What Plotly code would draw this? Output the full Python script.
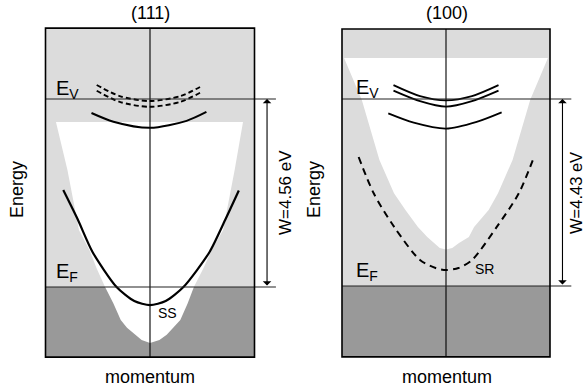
import plotly.graph_objects as go

WIN_W, WIN_H = 586, 392
FIG_W, FIG_H = WIN_W, WIN_H

# ---------------- data (energy in eV relative to E_F, momentum normalised) ----------------
panel_titles = ["(111)", "(100)"]
work_functions = [4.56, 4.43]          # W = E_V - E_F
box_energy_111 = [-1.70, 6.28]         # vertical extent of the (111) panel
box_energy_100 = [-1.68, 6.09]         # vertical extent of the (100) panel

# (111): projected bulk band gap (white region)
gap111_k = [-0.90, -0.79, -0.68, -0.58, -0.51, -0.43, -0.35, -0.28, -0.22, -0.14, -0.08, 0.00,
            0.09, 0.16, 0.22, 0.29, 0.36, 0.42, 0.51, 0.59, 0.70, 0.81, 0.89]
gap111_E = [4.00, 2.84, 1.38, 0.90, 0.45, 0.00, -0.40, -0.80, -0.99, -1.16, -1.285, -1.36,
            -1.285, -1.16, -0.99, -0.80, -0.40, 0.00, 0.45, 0.90, 1.38, 2.84, 4.00]
# (111): Shockley surface state SS
ss_k = [-0.83, -0.69, -0.55, -0.32, -0.15, 0.00, 0.15, 0.32, 0.57, 0.72, 0.85]
ss_E = [2.35, 1.63, 0.85, 0.00, -0.34, -0.44, -0.34, 0.00, 0.85, 1.63, 2.34]
# (111): image-potential states (solid below E_V, dashed above)
ip111_k = [-0.56, -0.35, 0.00, 0.35, 0.54]
ip111_E = [4.22, 4.01, 3.86, 4.03, 4.245]
ip111a_k = [-0.51, -0.29, 0.00, 0.29, 0.50]
ip111a_E = [4.90, 4.63, 4.51, 4.63, 4.88]
ip111b_k = [-0.51, -0.29, 0.00, 0.29, 0.50]
ip111b_E = [4.76, 4.49, 4.37, 4.49, 4.74]

# (100): projected bulk band gap (white region)
gap100_k = [-0.98, -0.81, -0.64, -0.50, -0.39, -0.27, -0.18, -0.12, -0.06, 0.00,
            0.06, 0.125, 0.22, 0.27, 0.41, 0.50, 0.64, 0.81, 0.98]
gap100_E = [5.40, 4.41, 2.985, 2.20, 1.80, 1.40, 1.16, 1.02, 0.90, 0.865,
            0.90, 1.02, 1.16, 1.40, 1.80, 2.20, 2.985, 4.41, 5.40]
# (100): surface resonance SR
sr_k = [-0.84, -0.695, -0.50, -0.25, -0.10, 0.00, 0.12, 0.25, 0.49, 0.70, 0.845]
sr_E = [3.056, 2.196, 1.405, 0.616, 0.426, 0.379, 0.426, 0.616, 1.405, 2.196, 3.05]
# (100): image-potential states
ip100a_k = [-0.505, -0.25, 0.00, 0.25, 0.505]
ip100a_E = [4.76, 4.50, 4.40, 4.50, 4.76]
ip100b_k = [-0.505, -0.25, 0.00, 0.25, 0.505]
ip100b_E = [4.63, 4.38, 4.25, 4.38, 4.63]
ip100c_k = [-0.555, -0.31, 0.00, 0.295, 0.535]
ip100c_E = [4.09, 3.87, 3.73, 3.89, 4.115]

# ---------------- style ----------------
LIGHT = "#dcdcdc"
DARK = "#999999"
FONT = "Liberation Sans, Arial, Helvetica, sans-serif"

# pixel calibration of each panel: (k=0 column, px per unit k, E_F row, px per eV)
calib = [(150.0, 104.5, 287.0, 41.23), (446.0, 104.0, 286.0, 42.21)]
split_px = FIG_W / 2.0


def axis_ranges(c, x_lo, x_hi):
    kc, ks, ef, es = c
    xr = [(x_lo - kc) / ks, (x_hi - kc) / ks]
    yr = [(ef - FIG_H) / es, ef / es]
    return xr, yr


xr1, yr1 = axis_ranges(calib[0], 0, split_px)
xr2, yr2 = axis_ranges(calib[1], split_px, FIG_W)

fig = go.Figure()


def add_curve(k, E, xa, ya, dash="solid", width=2.0, smoothing=0.8):
    fig.add_trace(go.Scatter(x=k, y=E, mode="lines", xaxis=xa, yaxis=ya,
                             line=dict(color="black", width=width, dash=dash, shape="spline",
                                       smoothing=smoothing),
                             hoverinfo="skip", showlegend=False))


def add_gap(k, E, xa, ya):
    fig.add_trace(go.Scatter(x=k, y=E, mode="lines", fill="toself", fillcolor="white",
                             xaxis=xa, yaxis=ya, line=dict(width=0, color="white"),
                             hoverinfo="skip", showlegend=False))


# (111) panel
add_gap(gap111_k, gap111_E, "x", "y")
add_curve(ss_k, ss_E, "x", "y", width=2.2, smoothing=0.7)
add_curve(ip111_k, ip111_E, "x", "y", width=2.0)
add_curve(ip111a_k, ip111a_E, "x", "y", dash="5px,3px", width=1.9)
add_curve(ip111b_k, ip111b_E, "x", "y", dash="5px,3px", width=1.9)

# (100) panel
add_gap(gap100_k, gap100_E, "x2", "y2")
add_curve(sr_k, sr_E, "x2", "y2", dash="7px,5px", width=2.0)
add_curve(ip100a_k, ip100a_E, "x2", "y2", width=1.8)
add_curve(ip100b_k, ip100b_E, "x2", "y2", width=1.8)
add_curve(ip100c_k, ip100c_E, "x2", "y2", width=1.8)

shapes = []
annotations = []


def px(x):
    return x / FIG_W


def py(y):
    return 1 - y / FIG_H


panels = [("x", "y", box_energy_111, work_functions[0]),
          ("x2", "y2", box_energy_100, work_functions[1])]
for (xa, ya, box, w) in panels:
    # background bands
    shapes.append(dict(type="rect", xref=xa, yref=ya, x0=-1, x1=1, y0=0, y1=box[1],
                       fillcolor=LIGHT, line=dict(width=0), layer="below"))
    shapes.append(dict(type="rect", xref=xa, yref=ya, x0=-1, x1=1, y0=box[0], y1=0,
                       fillcolor=DARK, line=dict(width=0), layer="below"))
    # k = 0 line
    shapes.append(dict(type="line", xref=xa, yref=ya, x0=0, x1=0, y0=box[0], y1=box[1],
                       line=dict(color="black", width=1.1), layer="above"))
    # E_V and E_F lines
    for e in (w, 0):
        shapes.append(dict(type="line", xref=xa, yref=ya, x0=-1, x1=1.205, y0=e, y1=e,
                           line=dict(color="#222222", width=1.1), layer="above"))
    # frame
    shapes.append(dict(type="rect", xref=xa, yref=ya, x0=-1, x1=1, y0=box[0], y1=box[1],
                       line=dict(color="black", width=1.6), layer="above"))
    # work-function arrow
    annotations.append(dict(xref=xa, yref=ya, axref=xa, ayref=ya, x=1.12, y=w, ax=1.12, ay=0,
                            text="", showarrow=True, arrowhead=1, arrowside="end+start",
                            arrowsize=1.3, arrowwidth=1.1, arrowcolor="black",
                            standoff=0, startstandoff=0))


def label(text, x, y, size, angle=0, xanchor="center"):
    annotations.append(dict(xref="paper", yref="paper", x=px(x), y=py(y), text=text,
                            showarrow=False, textangle=angle, xanchor=xanchor, yanchor="middle",
                            font=dict(family=FONT, size=size, color="black")))


label(panel_titles[0], 150, 13, 18)
label(panel_titles[1], 447, 13, 18)
label("momentum", 150, 377, 18)
label("momentum", 447, 377, 18)
label("Energy", 17, 190, 18, angle=-90)
label("Energy", 314, 190, 18, angle=-90)
label("W=%.2f eV" % work_functions[0], 285, 193, 17, angle=-90)
label("W=%.2f eV" % work_functions[1], 576, 193, 16.5, angle=-90)
label("E<sub>V</sub>", 54, 89, 20, xanchor="left")
label("E<sub>F</sub>", 54, 272, 20, xanchor="left")
label("E<sub>V</sub>", 354, 88, 20, xanchor="left")
label("E<sub>F</sub>", 354, 271, 20, xanchor="left")
label("SS", 167, 313, 14)
label("SR", 484, 269, 14)

axis_common = dict(visible=False, showgrid=False, zeroline=False, fixedrange=True)
fig.update_layout(
    width=FIG_W, height=FIG_H,
    margin=dict(l=0, r=0, t=0, b=0, pad=0),
    paper_bgcolor="white", plot_bgcolor="white",
    showlegend=False,
    xaxis=dict(domain=[0, 0.5], range=xr1, **axis_common),
    yaxis=dict(domain=[0, 1], range=yr1, **axis_common),
    xaxis2=dict(domain=[0.5, 1], range=xr2, anchor="y2", **axis_common),
    yaxis2=dict(domain=[0, 1], range=yr2, anchor="x2", **axis_common),
    shapes=shapes,
    annotations=annotations,
)

fig.write_html("out.html", config={"displayModeBar": False},
               post_script="document.body.style.margin='0px';")
